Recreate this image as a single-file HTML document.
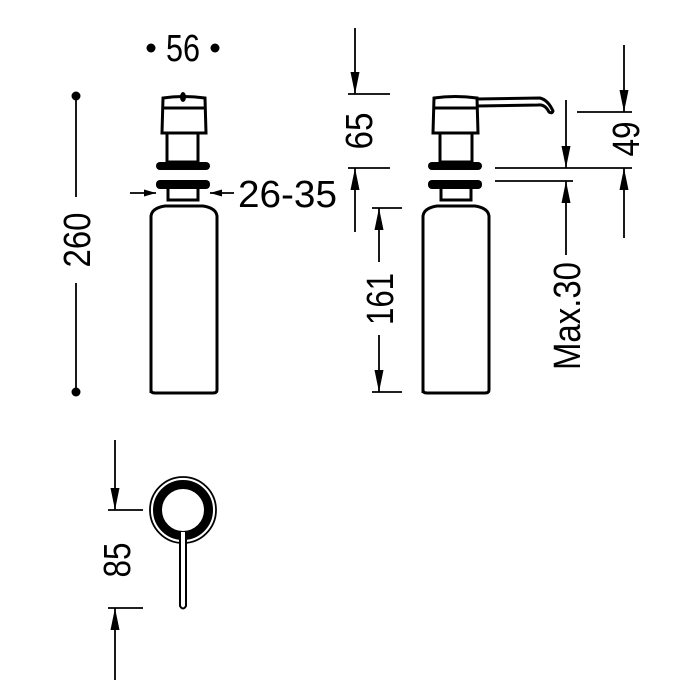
<!DOCTYPE html>
<html><head><meta charset="utf-8"><style>
html,body{margin:0;padding:0;background:#fff;}
svg{display:block}
text{font-family:"Liberation Sans",sans-serif;font-size:38px;fill:#000}
</style></head><body>
<svg width="700" height="700" viewBox="0 0 700 700" xmlns="http://www.w3.org/2000/svg">
<defs>
<marker id="a" viewBox="0 0 22 9" refX="22" refY="4.5" markerWidth="22" markerHeight="9" markerUnits="userSpaceOnUse" orient="auto"><path d="M0,0 L22,4.5 L0,9 Z" fill="#000"/></marker>
<marker id="b" viewBox="0 0 12 7" refX="12" refY="3.5" markerWidth="12" markerHeight="7" markerUnits="userSpaceOnUse" orient="auto"><path d="M0,0 L12,3.5 L0,7 Z" fill="#000"/></marker>
</defs>
<g fill="none" stroke="#000" stroke-width="1.8">
<circle cx="151" cy="48" r="4.5" fill="#000" stroke="none"/>
<circle cx="215" cy="48" r="4.5" fill="#000" stroke="none"/>
<circle cx="76" cy="96" r="4.5" fill="#000" stroke="none"/>
<circle cx="76" cy="392" r="4.5" fill="#000" stroke="none"/>
<line x1="76" y1="96" x2="76" y2="197"/>
<line x1="76" y1="283" x2="76" y2="392"/>

<g stroke-width="3">
<path d="M162,133 L163,98 Q183,95 205,98 L206,133 Z"/>
<line x1="163" y1="108" x2="205" y2="108"/>
<rect x="167" y="133" width="31" height="29"/>
<path d="M168,188 L168,200 L198,200 L198,188"/>
<path d="M151,393 L151,216 Q152,208 165,206 L203,206 Q216,208 217,216 L217,390 Q217,393 213,393 L155,393 Q151,393 151,390 Z"/>
</g>
<ellipse cx="183" cy="97" rx="3" ry="5" fill="#000" stroke="none"/>
<rect x="156" y="162" width="54" height="8" rx="4" fill="#000" stroke="none"/>
<rect x="156" y="180" width="54" height="9" rx="4" fill="#000" stroke="none"/>
<line x1="130" y1="193" x2="156" y2="193" marker-end="url(#b)"/>
<line x1="234" y1="193" x2="210" y2="193" marker-end="url(#b)"/>

<g stroke-width="3">
<path d="M433,133 L434,98 Q455,95 477,98 L478,133 Z"/>
<line x1="434" y1="108" x2="477" y2="108"/>
<path d="M477,99 L540,98 Q548,100 553,111 Q552,114 549,112 Q545,104 538,105 L477,106"/>
<rect x="440" y="133" width="32" height="29"/>
<path d="M441,188 L441,200 L471,200 L471,188"/>
<path d="M423,393 L423,216 Q424,208 437,206 L475,206 Q488,208 489,216 L489,390 Q489,393 485,393 L427,393 Q423,393 423,390 Z"/>
</g>
<rect x="428" y="162" width="54" height="8" rx="4" fill="#000" stroke="none"/>
<rect x="428" y="180" width="54" height="9" rx="4" fill="#000" stroke="none"/>

<line x1="355" y1="28" x2="355" y2="94" marker-end="url(#a)"/>
<line x1="348" y1="94" x2="390" y2="94"/>
<line x1="348" y1="168" x2="390" y2="168"/>
<line x1="355" y1="232" x2="355" y2="168" marker-end="url(#a)"/>
<line x1="372" y1="208" x2="402" y2="208"/>
<line x1="379" y1="262" x2="379" y2="208" marker-end="url(#a)"/>
<line x1="379" y1="335" x2="379" y2="392" marker-end="url(#a)"/>
<line x1="372" y1="392" x2="402" y2="392"/>

<line x1="624" y1="45" x2="624" y2="112" marker-end="url(#a)"/>
<line x1="577" y1="112" x2="632" y2="112"/>
<line x1="495" y1="168" x2="632" y2="168"/>
<line x1="495" y1="181" x2="573" y2="181"/>
<line x1="624" y1="238" x2="624" y2="168" marker-end="url(#a)"/>
<line x1="566" y1="100" x2="566" y2="168" marker-end="url(#a)"/>
<line x1="566" y1="255" x2="566" y2="181" marker-end="url(#a)"/>

<circle cx="183" cy="510" r="33" stroke-width="1.8"/>
<circle cx="183" cy="510" r="25.5" stroke-width="9"/>
<path d="M180,532 L180,606 Q183,611 186,606 L186,532" stroke-width="2" fill="#fff"/>
<line x1="115" y1="440" x2="115" y2="510" marker-end="url(#a)"/>
<line x1="108" y1="510" x2="143" y2="510"/>
<line x1="108" y1="608" x2="143" y2="608"/>
<line x1="115" y1="680" x2="115" y2="608" marker-end="url(#a)"/>
</g>

<text x="166" y="61" textLength="34" lengthAdjust="spacingAndGlyphs">56</text>
<text x="238" y="207" textLength="99" lengthAdjust="spacingAndGlyphs">26-35</text>
<text transform="translate(90,240) rotate(-90)" text-anchor="middle" textLength="55" lengthAdjust="spacingAndGlyphs">260</text>
<text transform="translate(372,131) rotate(-90)" text-anchor="middle" textLength="37" lengthAdjust="spacingAndGlyphs">65</text>
<text transform="translate(393,299) rotate(-90)" text-anchor="middle" textLength="52" lengthAdjust="spacingAndGlyphs">161</text>
<text transform="translate(639,139) rotate(-90)" text-anchor="middle" textLength="35" lengthAdjust="spacingAndGlyphs">49</text>
<text transform="translate(580,316) rotate(-90)" text-anchor="middle" textLength="108" lengthAdjust="spacingAndGlyphs">Max.30</text>
<text transform="translate(130,560) rotate(-90)" text-anchor="middle" textLength="35" lengthAdjust="spacingAndGlyphs">85</text>
</svg>
</body></html>
